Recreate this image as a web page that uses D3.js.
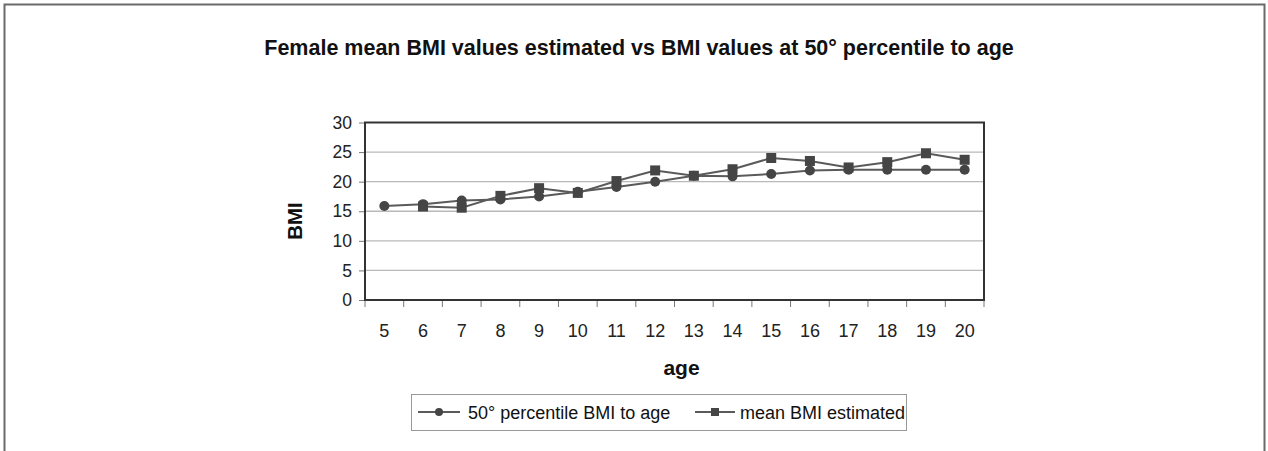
<!DOCTYPE html>
<html>
<head>
<meta charset="utf-8">
<script src="https://cdn.jsdelivr.net/npm/d3@7"></script>
<style>
  html, body { margin: 0; padding: 0; background: #fff; }
  svg { display: block; font-family: "Liberation Sans", Arial, sans-serif; }
</style>
</head>
<body>
<svg id="chart" width="1268" height="451"></svg>
<script>
// Female BMI by age: 50th percentile reference vs estimated mean
const ages = [5, 6, 7, 8, 9, 10, 11, 12, 13, 14, 15, 16, 17, 18, 19, 20];
const percentile50 = [15.9, 16.2, 16.8, 17.0, 17.5, 18.3, 19.1, 20.0, 21.0, 20.9, 21.3, 21.9, 22.0, 22.0, 22.0, 22.0];
const meanEstimated = [null, 15.8, 15.6, 17.6, 18.9, 18.1, 20.1, 21.9, 21.0, 22.1, 24.0, 23.5, 22.4, 23.3, 24.8, 23.7];
const yTicks = [0, 5, 10, 15, 20, 25, 30];
const seriesNames = ["50\u00b0 percentile BMI to age", "mean BMI estimated"];
const titleText = "Female mean BMI values estimated vs BMI values at 50\u00b0 percentile to age";

const svg = d3.select("#chart");
const W = 1268, H = 451;
const plot = { left: 365, right: 984, top: 122.5, bottom: 300 };
const FONT = "'Liberation Sans', Arial, sans-serif";

// outer frame (open at the bottom)
svg.append("path")
  .attr("d", `M4.5,${H} V4.5 H1264.5 V${H}`)
  .attr("fill", "none").attr("stroke", "#6a6a6a").attr("stroke-width", 2);

svg.append("text")
  .attr("x", 639).attr("y", 55)
  .attr("text-anchor", "middle")
  .attr("font-size", 21.5).attr("font-weight", "bold").attr("fill", "#111")
  .text(titleText);

const x = d3.scaleBand().domain(ages).range([plot.left, plot.right]).padding(0);
const y = d3.scaleLinear().domain([0, 30]).range([plot.bottom, plot.top]);

// gridlines
svg.append("g")
  .selectAll("line").data(yTicks.filter(t => t > 0 && t < 30)).join("line")
  .attr("x1", plot.left).attr("x2", plot.right)
  .attr("y1", d => y(d)).attr("y2", d => y(d))
  .attr("stroke", "#b9b9b9").attr("stroke-width", 1.3);

// y axis
const yAxis = svg.append("g")
  .attr("transform", `translate(${plot.left},0)`)
  .call(d3.axisLeft(y).tickValues(yTicks).tickSize(6).tickPadding(7));
yAxis.select(".domain").remove();
yAxis.selectAll(".tick line").attr("stroke", "#777");
yAxis.selectAll(".tick text")
  .attr("font-size", 17.5).attr("fill", "#222").attr("font-family", FONT);

// x axis: ticks sit between categories
const xAxis = svg.append("g")
  .attr("transform", `translate(0,${plot.bottom})`)
  .call(d3.axisBottom(x).tickSize(0).tickPadding(24));
xAxis.select(".domain").remove();
xAxis.selectAll(".tick text")
  .attr("font-size", 18).attr("fill", "#222").attr("font-family", FONT);
svg.append("g").selectAll("line")
  .data(ages.map(a => x(a)).concat([plot.right]))
  .join("line")
  .attr("x1", d => d).attr("x2", d => d)
  .attr("y1", plot.bottom).attr("y2", plot.bottom + 7)
  .attr("stroke", "#777");

// plot area border
svg.append("rect")
  .attr("x", plot.left).attr("y", plot.top)
  .attr("width", plot.right - plot.left).attr("height", plot.bottom - plot.top)
  .attr("fill", "none").attr("stroke", "#333").attr("stroke-width", 2);

// axis titles
svg.append("text")
  .attr("transform", `translate(302,221) rotate(-90)`)
  .attr("text-anchor", "middle")
  .attr("font-size", 20.5).attr("font-weight", "bold").attr("fill", "#111")
  .text("BMI");
svg.append("text")
  .attr("x", 681.5).attr("y", 375)
  .attr("text-anchor", "middle")
  .attr("font-size", 21).attr("font-weight", "bold").attr("fill", "#111")
  .text("age");

const cx = a => x(a) + x.bandwidth() / 2;
const line = d3.line()
  .defined(d => d.v != null)
  .x(d => cx(d.a)).y(d => y(d.v));

const s1 = ages.map((a, i) => ({ a, v: percentile50[i] }));
const s2 = ages.map((a, i) => ({ a, v: meanEstimated[i] }));

const lineColor = "#5a5a5a", markColor = "#454545";

svg.append("path").datum(s1).attr("d", line)
  .attr("fill", "none").attr("stroke", lineColor).attr("stroke-width", 2);
svg.append("g").selectAll("circle").data(s1.filter(d => d.v != null)).join("circle")
  .attr("cx", d => cx(d.a)).attr("cy", d => y(d.v)).attr("r", 5)
  .attr("fill", markColor);

svg.append("path").datum(s2).attr("d", line)
  .attr("fill", "none").attr("stroke", lineColor).attr("stroke-width", 2);
svg.append("g").selectAll("rect").data(s2.filter(d => d.v != null)).join("rect")
  .attr("x", d => cx(d.a) - 5).attr("y", d => y(d.v) - 5)
  .attr("width", 10).attr("height", 10)
  .attr("fill", markColor);

// legend
const lg = svg.append("g");
lg.append("rect")
  .attr("x", 411.5).attr("y", 394.5).attr("width", 495).attr("height", 36)
  .attr("fill", "#fff").attr("stroke", "#999").attr("stroke-width", 1);

const items = [
  { name: seriesNames[0], x0: 418, x1: 460, tx: 468, shape: "circle" },
  { name: seriesNames[1], x0: 695, x1: 735, tx: 740, shape: "square" }
];
const ly = 412;
items.forEach(it => {
  lg.append("line").attr("x1", it.x0).attr("x2", it.x1).attr("y1", ly).attr("y2", ly)
    .attr("stroke", lineColor).attr("stroke-width", 2);
  const mx = (it.x0 + it.x1) / 2;
  if (it.shape === "circle") {
    lg.append("circle").attr("cx", mx).attr("cy", ly).attr("r", 4).attr("fill", markColor);
  } else {
    lg.append("rect").attr("x", mx - 4).attr("y", ly - 4).attr("width", 8).attr("height", 8).attr("fill", markColor);
  }
  lg.append("text").attr("x", it.tx).attr("y", ly + 6.5)
    .attr("font-size", 18).attr("fill", "#111")
    .text(it.name);
});
</script>
</body>
</html>
